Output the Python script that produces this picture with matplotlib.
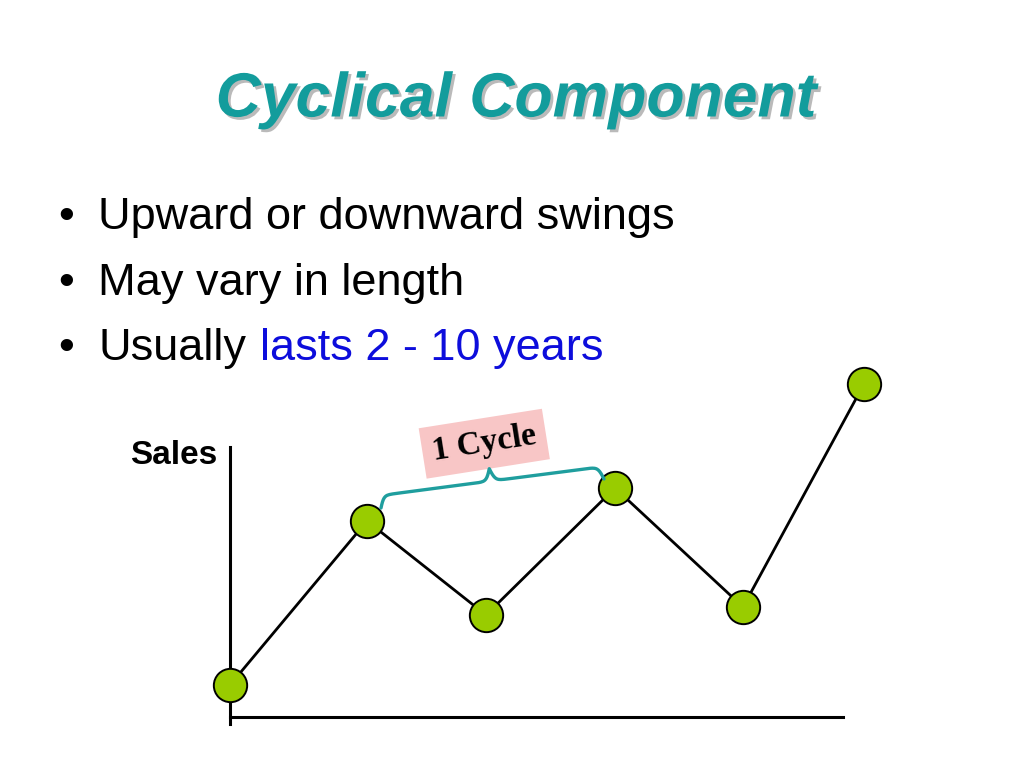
import numpy as np
import matplotlib
matplotlib.use("Agg")
import matplotlib.pyplot as plt
import matplotlib.patheffects as pe

# time positions and sales level of the cycle points
periods = [0, 13.7, 25.6, 38.5, 51.3, 63.4]
sales = [3.2, 19.6, 10.2, 22.9, 11.0, 33.3]

title = "Cyclical Component"
bullets = ["Upward or downward swings", "May vary in length", "Usually"]
highlight = "lasts 2 - 10 years"
cycle_label = "1 Cycle"

W, H = 1024, 768
fig = plt.figure(figsize=(W / 100, H / 100), dpi=100)
fig.patch.set_facecolor("white")


def fx(px):
    return px / W


def fy(py):
    return 1 - py / H


# ***** title with a soft drop shadow *****
fig.text(fx(516), fy(100), title, ha="center", va="center",
         fontsize=45, fontweight="bold", fontstyle="italic",
         family="Liberation Sans", color="#139c9c",
         path_effects=[pe.withSimplePatchShadow(offset=(2, -2), shadow_rgbFace="#8c8c8c", alpha=0.6)])

# ***** bullet list *****
baselines = [229, 295, 360]
last = None
for text, base in zip(bullets, baselines):
    fig.text(fx(58), fy(base), "\u2022", ha="left", va="baseline",
             fontsize=32.5, family="Liberation Sans", color="black")
    last = fig.text(fx(98), fy(base), text, ha="left", va="baseline",
                    fontsize=32.5, family="Liberation Sans", color="black")

# blue part of the last bullet, placed right after "Usually"
fig.texts.append(matplotlib.text.Annotation(
    highlight, xy=(1, 0), xycoords=last, xytext=(10, 0), textcoords="offset points",
    ha="left", va="bottom", fontsize=32.5, family="Liberation Sans", color="#0d0ddc"))
fig.texts[-1].set_figure(fig)

# ***** the little sales chart *****
ax = fig.add_axes([fx(230), fy(717), fx(843) - fx(230), fy(447) - fy(717)])
ax.set_xlim(0, 61.3)
ax.set_ylim(0, 27.0)
for side in ["top", "right"]:
    ax.spines[side].set_visible(False)
for side in ["left", "bottom"]:
    ax.spines[side].set_linewidth(2.2)
# vertical axis pokes a little below the time axis
ax.spines["left"].set_bounds(-0.7, 27.0)
ax.set_xticks([])
ax.set_yticks([])
ax.patch.set_alpha(0)

ax.plot(periods, sales, color="black", linewidth=2.0, marker="o", markersize=24,
        markerfacecolor="#99cc00", markeredgecolor="black", markeredgewidth=1.4,
        clip_on=False, zorder=3)

fig.text(fx(217), fy(456), "Sales", ha="right", va="center",
         fontsize=24, fontweight="bold", family="Liberation Sans")

# ***** curly brace between the two peaks *****
p1 = ax.transData.transform((periods[1], sales[1])) + np.array([14, 13])
p2 = ax.transData.transform((periods[3], sales[3])) + np.array([-11, 9])
d = p2 - p1
L = np.hypot(*d)
u = d / L
n = np.array([-u[1], u[0]])
s = np.linspace(0, L, 201)
half = s[:101]
beta = 0.45
yh = 1 / (1 + np.exp(-beta * (half - half[0]))) + 1 / (1 + np.exp(-beta * (half - half[-1])))
prof = np.concatenate((yh, yh[-2::-1])) - 0.5
prof = prof * 25
pts = p1[None, :] + s[:, None] * u[None, :] + prof[:, None] * n[None, :]
brace = ax.transData.inverted().transform(pts)
ax.plot(brace[:, 0], brace[:, 1], color="#1f9e9e", linewidth=2.4, clip_on=False, zorder=4,
        solid_capstyle="round")

tip = pts[100]
ax.annotate(cycle_label, xy=(tip[0], tip[1]), xycoords="figure pixels",
            xytext=(-5, 25), textcoords="offset pixels", ha="center", va="center",
            rotation=9, fontsize=24, fontweight="bold", family="Liberation Serif",
            bbox=dict(boxstyle="square,pad=0.3", facecolor="#f8c6c6", edgecolor="none"))

fig.savefig("out.png", dpi=100)
